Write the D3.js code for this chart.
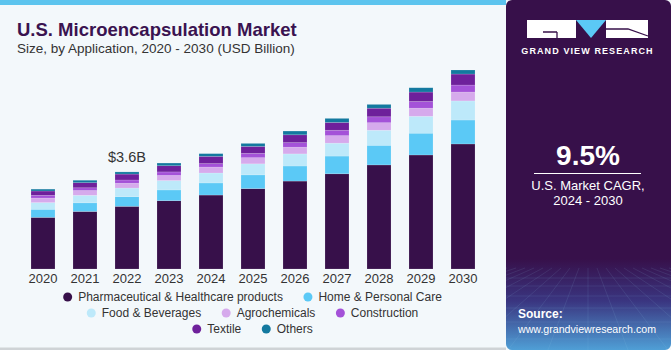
<!DOCTYPE html>
<html>
<head>
<meta charset="utf-8">
<script src="https://cdn.jsdelivr.net/npm/d3@7"></script>
<style>
    html, body { margin: 0; padding: 0; background: #f3f8fb; }
    svg { display: block; font-family: "Liberation Sans", Arial, sans-serif; }
</style>
</head>
<body>
<div id="chart"></div>
<script>
// data (USD Billion)
const years = [2020, 2021, 2022, 2023, 2024, 2025, 2026, 2027, 2028, 2029, 2030];
const seriesNames = ["Pharmaceutical & Healthcare products", "Home & Personal Care", "Food & Beverages",
    "Agrochemicals", "Construction", "Textile", "Others"];
const pharma = [1.92, 2.14, 2.33, 2.54, 2.75, 2.99, 3.27, 3.54, 3.87, 4.24, 4.65];
const homeCare = [0.30, 0.32, 0.36, 0.40, 0.45, 0.51, 0.56, 0.66, 0.73, 0.81, 0.89];
const foodBev = [0.25, 0.28, 0.32, 0.35, 0.37, 0.41, 0.45, 0.48, 0.56, 0.63, 0.71];
const agro = [0.17, 0.18, 0.18, 0.19, 0.22, 0.23, 0.25, 0.28, 0.28, 0.30, 0.33];
const construction = [0.10, 0.10, 0.12, 0.13, 0.13, 0.16, 0.17, 0.20, 0.22, 0.25, 0.26];
const textile = [0.16, 0.19, 0.22, 0.23, 0.27, 0.26, 0.29, 0.29, 0.32, 0.35, 0.41];
const others = [0.07, 0.09, 0.08, 0.10, 0.10, 0.11, 0.14, 0.15, 0.14, 0.16, 0.15];
const colours = ["#37104a", "#5bc9f6", "#bde9fa", "#d6aaec", "#a452d8", "#6e209b", "#13799f"];
const calloutYear = 2022;
const calloutText = "$3.6B";
const cagrText = "9.5%";
const cagrLines = ["U.S. Market CAGR,", "2024 - 2030"];

const width = 671, height = 350;
const panelX = 506;

const svg = d3.select("#chart")
    .append("svg")
    .attr("width", width)
    .attr("height", height);

const defs = svg.append("defs");

// background of the left panel
svg.append("rect")
    .attr("width", panelX + 10).attr("height", height)
    .attr("fill", "#f3f8fb");
svg.append("rect")
    .attr("width", panelX).attr("height", 5)
    .attr("fill", "#5cc4ee");
svg.append("rect")
    .attr("x", 0).attr("y", 347.5).attr("width", panelX).attr("height", 2.5)
    .attr("fill", "#cfd3d6");

// title
svg.append("text")
    .attr("x", 17).attr("y", 35.5)
    .style("font-size", "18.5px")
    .style("font-weight", "bold")
    .attr("fill", "#3a1350")
    .text("U.S. Microencapsulation Market");
svg.append("text")
    .attr("x", 17).attr("y", 53)
    .style("font-size", "13.5px")
    .attr("fill", "#333333")
    .text("Size, by Application, 2020 - 2030 (USD Billion)");

// scales
const x = d3.scaleBand()
    .domain(years)
    .range([13, 493])
    .padding(18 / 42);

const y = d3.scaleLinear()
    .domain([0, 7.4])
    .range([269, 70]);

// stack the series
const table = years.map((yr, i) => ({
    year: yr,
    s0: pharma[i], s1: homeCare[i], s2: foodBev[i], s3: agro[i],
    s4: construction[i], s5: textile[i], s6: others[i]
}));
const keys = ["s0", "s1", "s2", "s3", "s4", "s5", "s6"];
const stacked = d3.stack().keys(keys)(table);

svg.append("g")
    .selectAll("g")
    .data(stacked)
    .join("g")
    .attr("fill", (d, i) => colours[i])
    .selectAll("rect")
    .data(d => d)
    .join("rect")
    .attr("x", d => x(d.data.year))
    .attr("y", d => y(d[1]))
    .attr("width", x.bandwidth())
    .attr("height", d => y(d[0]) - y(d[1]))
    .attr("stroke", "rgba(255,255,255,0.25)")
    .attr("stroke-width", 0.6);

// x axis
const xAxis = svg.append("g")
    .attr("transform", "translate(0,270)")
    .call(d3.axisBottom(x).tickSize(0).tickPadding(4));
xAxis.select(".domain").remove();
xAxis.selectAll("text")
    .style("font-size", "13px")
    .style("font-family", "\"Liberation Sans\", Arial, sans-serif")
    .attr("fill", "#333333");

// callout above 2022
const calloutTotal = d3.sum(keys, k => table[years.indexOf(calloutYear)][k]);
svg.append("text")
    .attr("x", x(calloutYear) + x.bandwidth() / 2)
    .attr("y", y(calloutTotal) - 10)
    .attr("text-anchor", "middle")
    .style("font-size", "14.5px")
    .attr("fill", "#333333")
    .text(calloutText);

// legend, centred rows
const legendRows = [[0, 1], [2, 3, 4], [5, 6]];
const legendY = [297, 313, 329];
const legendCentre = 252.5;
legendRows.forEach((row, r) => {
    const g = svg.append("g");
    const items = row.map(i => {
        const t = g.append("text")
            .attr("y", legendY[r] + 4.3)
            .style("font-size", "12px")
            .attr("fill", "#333333")
            .text(seriesNames[i]);
        return { i: i, t: t, w: t.node().getComputedTextLength() };
    });
    const rowWidth = d3.sum(items, d => 15 + d.w) + 20.5 * (items.length - 1);
    let cx = legendCentre - rowWidth / 2 + 4.5;
    items.forEach(d => {
        g.append("circle")
            .attr("cx", cx).attr("cy", legendY[r])
            .attr("r", 4.5)
            .attr("fill", colours[d.i]);
        d.t.attr("x", cx + 10.5);
        cx += 10.5 + d.w + 25;
    });
});

// right panel
const grad = defs.append("linearGradient")
    .attr("id", "panelGrad")
    .attr("x1", 0).attr("y1", 0).attr("x2", 0).attr("y2", 1);
grad.append("stop").attr("offset", "0.74").attr("stop-color", "#37104a");
grad.append("stop").attr("offset", "0.86").attr("stop-color", "#3a3580");
grad.append("stop").attr("offset", "1").attr("stop-color", "#4f9fd6");

defs.append("clipPath").attr("id", "panelClip")
    .append("rect")
    .attr("x", panelX).attr("y", 0).attr("width", width - panelX).attr("height", height)
    .attr("rx", 6);

const panel = svg.append("g").attr("clip-path", "url(#panelClip)");
panel.append("rect")
    .attr("x", panelX).attr("y", 0).attr("width", width - panelX).attr("height", height)
    .attr("fill", "url(#panelGrad)");

// faint perspective grid at the bottom of the panel
const grid = panel.append("g")
    .attr("stroke", "#9fd0f0")
    .attr("stroke-opacity", 0.14)
    .attr("stroke-width", 0.8);
[278, 286, 296, 308, 322, 339].forEach(gy => {
    grid.append("line").attr("x1", panelX).attr("x2", width).attr("y1", gy).attr("y2", gy);
});
d3.range(-12, 13).forEach(k => {
    grid.append("line")
        .attr("x1", 588 + k * 9).attr("y1", 268)
        .attr("x2", 588 + k * 40).attr("y2", 350);
});

// logo
const logo = svg.append("g");
logo.append("rect").attr("x", 527).attr("y", 20).attr("width", 49).attr("height", 18).attr("fill", "#ffffff");
logo.append("path").attr("d", "M576,20 L606,20 L591,38 Z").attr("fill", "#5bc9f6");
logo.append("rect").attr("x", 606).attr("y", 20).attr("width", 42).attr("height", 18).attr("fill", "#ffffff");
logo.append("path")
    .attr("d", "M543,32 L557,32 M557,32 L557,38")
    .attr("stroke", "#37104a").attr("stroke-width", 1.3).attr("fill", "none");
logo.append("path")
    .attr("d", "M606,29 L628,29 L648,36")
    .attr("stroke", "#37104a").attr("stroke-width", 1.3).attr("fill", "none");
svg.append("text")
    .attr("x", 587.5).attr("y", 54)
    .attr("text-anchor", "middle")
    .style("font-size", "9px")
    .style("font-weight", "bold")
    .style("letter-spacing", "1.1px")
    .attr("fill", "#ffffff")
    .text("GRAND VIEW RESEARCH");

// CAGR block
svg.append("text")
    .attr("x", 588).attr("y", 165)
    .attr("text-anchor", "middle")
    .style("font-size", "28px")
    .style("font-weight", "bold")
    .attr("fill", "#ffffff")
    .text(cagrText);
svg.append("line")
    .attr("x1", 534).attr("x2", 641)
    .attr("y1", 173.5).attr("y2", 173.5)
    .attr("stroke", "#ffffff").attr("stroke-width", 1.2);
cagrLines.forEach((t, i) => {
    svg.append("text")
        .attr("x", 588).attr("y", 190 + i * 14.5)
        .attr("text-anchor", "middle")
        .style("font-size", "13px")
        .attr("fill", "#ffffff")
        .text(t);
});

// source
svg.append("text")
    .attr("x", 518).attr("y", 318)
    .style("font-size", "12px")
    .style("font-weight", "bold")
    .attr("fill", "#ffffff")
    .text("Source:");
svg.append("text")
    .attr("x", 518).attr("y", 333)
    .style("font-size", "11px")
    .attr("textLength", 138)
    .attr("lengthAdjust", "spacingAndGlyphs")
    .attr("fill", "#ffffff")
    .text("www.grandviewresearch.com");
</script>
</body>
</html>
